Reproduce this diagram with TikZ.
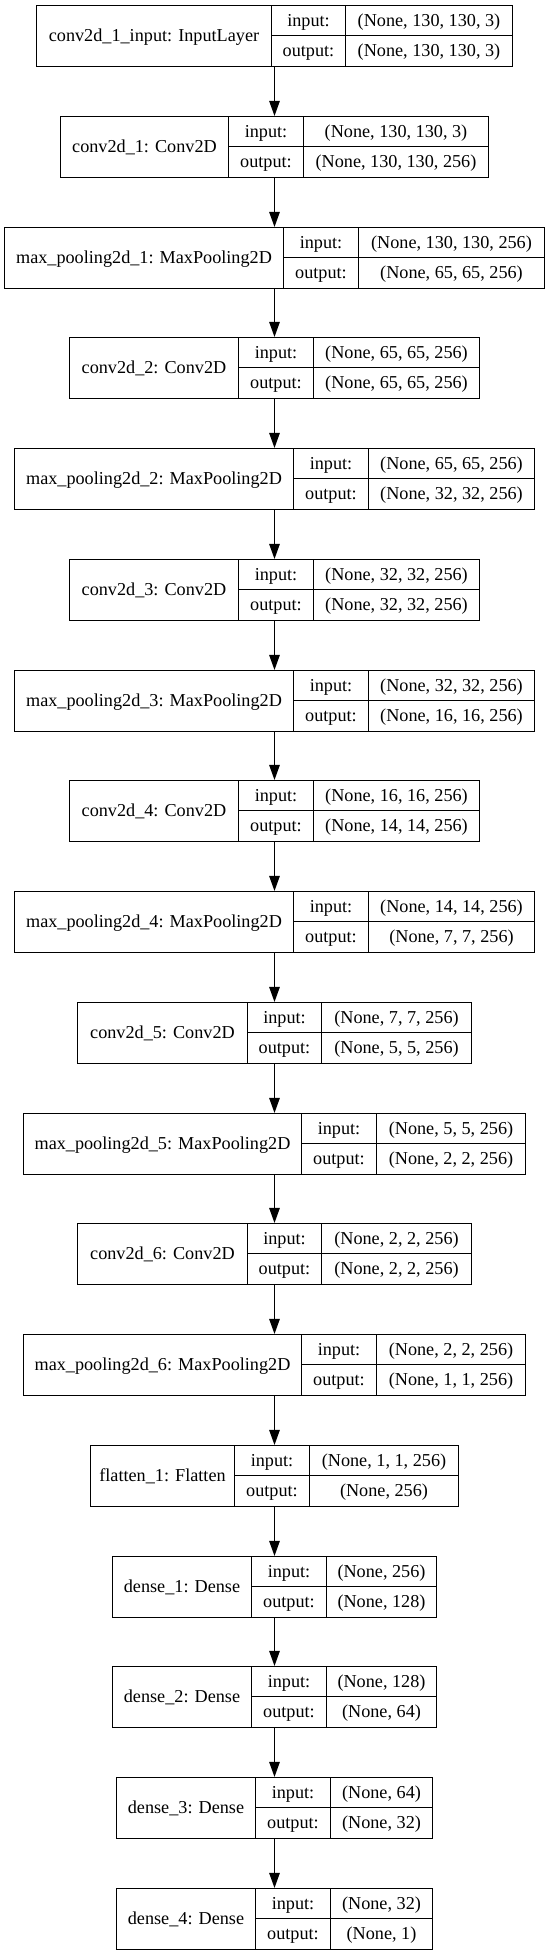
\documentclass[tikz,border=0pt]{standalone}
\usepackage{fontspec}
\setmainfont{Liberation Serif}
\usetikzlibrary{arrows.meta}
\tikzset{
  layerbox/.style={draw=black, line width=1.1pt, minimum height=61pt, inner sep=0pt},
  sep/.style={draw=black, line width=1.1pt},
  txt/.style={inner sep=0pt, text height=11pt, text depth=0pt, font=\fontsize{18.2pt}{20pt}\selectfont},
  flow/.style={draw=black, line width=1.1pt, -{Triangle[length=15pt,width=10.5pt]}}
}
\newcommand\layerbox[9]{%
  \pgfmathsetmacro\lbtop{floor(5.8+110.73*#2)+0.5}%
  \pgfmathsetmacro\lbleft{floor(#3)+0.5}%
  \pgfmathsetmacro\lbdone{floor(#4)+0.5}%
  \pgfmathsetmacro\lbdtwo{floor(#5)+0.5}%
  \pgfmathsetmacro\lbright{549-\lbleft}%
  \pgfmathsetmacro\lbwidth{\lbright-\lbleft}%
  \node[layerbox, minimum width=\lbwidth pt] (#1) at (274.5,\lbtop+30.5) {};
  \draw[sep] (\lbdone,\lbtop) -- (\lbdone,\lbtop+61);
  \draw[sep] (\lbdtwo,\lbtop) -- (\lbdtwo,\lbtop+61);
  \draw[sep] (\lbdone,\lbtop+30) -- (\lbright,\lbtop+30);
  \node[txt] (#1-l) at ({(\lbleft+\lbdone)/2},\lbtop+30.5) {#6};
  \node[txt] (#1-ik) at ({(\lbdone+\lbdtwo)/2},\lbtop+15.25) {input:};
  \node[txt] (#1-ok) at ({(\lbdone+\lbdtwo)/2},\lbtop+45.75) {output:};
  \node[txt] (#1-iv) at ({(\lbdtwo+\lbright)/2},\lbtop+15.25) {#7};
  \node[txt] (#1-ov) at ({(\lbdtwo+\lbright)/2},\lbtop+45.75) {#8};
}
\begin{document}
\begin{tikzpicture}[x=1pt,y=-1pt]
\useasboundingbox[fill=white] (0,0) rectangle (549,1955);
\layerbox{b0}{0}{36.7}{271.3}{345.7}{conv2d\_1\_input: InputLayer}{(None, 130, 130, 3)}{(None, 130, 130, 3)}{}
\layerbox{b1}{1}{60}{228.7}{303.7}{conv2d\_1: Conv2D}{(None, 130, 130, 3)}{(None, 130, 130, 256)}{}
\layerbox{b2}{2}{4.6}{283.6}{358.5}{max\_pooling2d\_1: MaxPooling2D}{(None, 130, 130, 256)}{(None, 65, 65, 256)}{}
\layerbox{b3}{3}{69.3}{238.8}{313.4}{conv2d\_2: Conv2D}{(None, 65, 65, 256)}{(None, 65, 65, 256)}{}
\layerbox{b4}{4}{14.7}{293.1}{368}{max\_pooling2d\_2: MaxPooling2D}{(None, 65, 65, 256)}{(None, 32, 32, 256)}{}
\layerbox{b5}{5}{69.3}{238.8}{313.4}{conv2d\_3: Conv2D}{(None, 32, 32, 256)}{(None, 32, 32, 256)}{}
\layerbox{b6}{6}{14.7}{293.1}{368}{max\_pooling2d\_3: MaxPooling2D}{(None, 32, 32, 256)}{(None, 16, 16, 256)}{}
\layerbox{b7}{7}{69.3}{238.8}{313.4}{conv2d\_4: Conv2D}{(None, 16, 16, 256)}{(None, 14, 14, 256)}{}
\layerbox{b8}{8}{14.7}{293.1}{368}{max\_pooling2d\_4: MaxPooling2D}{(None, 14, 14, 256)}{(None, 7, 7, 256)}{}
\layerbox{b9}{9}{77.7}{247.2}{321.8}{conv2d\_5: Conv2D}{(None, 7, 7, 256)}{(None, 5, 5, 256)}{}
\layerbox{b10}{10}{23.5}{301.8}{376.8}{max\_pooling2d\_5: MaxPooling2D}{(None, 5, 5, 256)}{(None, 2, 2, 256)}{}
\layerbox{b11}{11}{77.7}{247.2}{321.8}{conv2d\_6: Conv2D}{(None, 2, 2, 256)}{(None, 2, 2, 256)}{}
\layerbox{b12}{12}{23.5}{301.8}{376.8}{max\_pooling2d\_6: MaxPooling2D}{(None, 2, 2, 256)}{(None, 1, 1, 256)}{}
\layerbox{b13}{13}{90}{234.9}{309.9}{flatten\_1: Flatten}{(None, 1, 1, 256)}{(None, 256)}{}
\layerbox{b14}{14}{112.4}{251.4}{326}{dense\_1: Dense}{(None, 256)}{(None, 128)}{}
\layerbox{b15}{15}{112.4}{251.4}{326}{dense\_2: Dense}{(None, 128)}{(None, 64)}{}
\layerbox{b16}{16}{116.6}{255.3}{330}{dense\_3: Dense}{(None, 64)}{(None, 32)}{}
\layerbox{b17}{17}{116.6}{255.3}{330}{dense\_4: Dense}{(None, 32)}{(None, 1)}{}
\foreach \a/\b in {b0/b1,b1/b2,b2/b3,b3/b4,b4/b5,b5/b6,b6/b7,b7/b8,b8/b9,b9/b10,b10/b11,b11/b12,b12/b13,b13/b14,b14/b15,b15/b16,b16/b17}
  \draw[flow] (\a.south) -- (\b.north);
\end{tikzpicture}
\end{document}
